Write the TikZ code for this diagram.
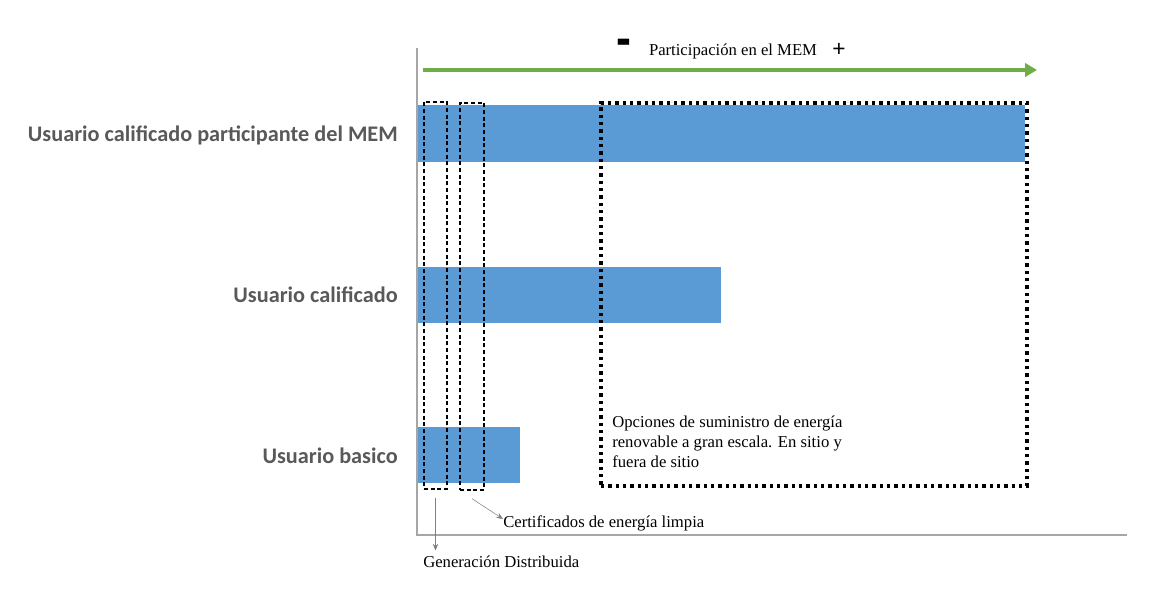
\documentclass[tikz,border=0pt]{standalone}
\usepackage{fontspec}
\setmainfont{Liberation Serif}
\newfontfamily\calibri{Carlito}
\newfontfamily\arialfont{Liberation Sans}
\usepackage{xcolor}
\usetikzlibrary{positioning, arrows.meta, fit}
\definecolor{barblue}{HTML}{5B9BD5}
\definecolor{arrowgreen}{HTML}{70AD47}
\definecolor{labelgray}{HTML}{595959}
\definecolor{axisgray}{HTML}{A6A6A6}
\tikzset{
  user/.style={anchor=east, inner sep=0pt, font=\calibri\bfseries\fontsize{16.7}{18}\selectfont, text=labelgray},
  bar/.style={fill=barblue, draw=none},
  smallbox/.style={draw, dashed, line width=1pt, dash pattern=on 3pt off 2pt, inner sep=0pt},
  bigbox/.style={draw, line width=2.4pt, dash pattern=on 2.5pt off 3pt, inner sep=0pt},
  note/.style={inner sep=0pt, font=\fontsize{12.5}{15}\selectfont, align=left},
  pointer/.style={draw=gray, -{Stealth[length=5pt, width=4pt]}},
}

\begin{document}
\begin{tikzpicture}[x=0.75pt, y=-0.75pt]
  \useasboundingbox (0,0) rectangle (1149,589);

  % axes
  \draw[axisgray, line width=1pt] (417,48) -- (417,535) -- (1127,535);

  % participation arrow
  \draw[arrowgreen, line width=3pt, -{Triangle[length=9pt, width=10pt]}] (423,70) -- (1037,70);
  \node[note] (mem) at (733,51) {Participación en el MEM};
  \node[inner sep=0pt, font=\arialfont\fontsize{24}{24}\selectfont\bfseries, xscale=1.4, yscale=1.6] (minus) at (624,47) {-};
  \node[inner sep=0pt, font=\arialfont\fontsize{17}{17}\selectfont] (plus) at (839,50) {+};

  % bars
  \fill[bar] (418,105) rectangle (1025,162);
  \fill[bar] (418,267) rectangle (721,323);
  \fill[bar] (418,427) rectangle (520,483);

  % user levels
  \node[user] (qmem)  at (398,135) {Usuario calificado participante del MEM};
  \node[user] (qual)  at (398,295) {Usuario calificado};
  \node[user] (basic) at (398,456) {Usuario basico};

  % option boxes
  \node[smallbox, fit={(424,102) (447,489)}] (gd) {};
  \node[smallbox, fit={(460,103) (484,490)}] (cel) {};
  \node[bigbox, fit={(601,103) (1027,486)}] (large) {};

  \node[note, anchor=north west] (largetext) at (612,416)
    {Opciones de suministro de energía\\renovable a gran escala. En sitio y\\fuera de sitio};

  % pointers to labels
  \node[note, anchor=west] (gdtext)  at (423,562) {Generación Distribuida};
  \node[note, anchor=west] (celtext) at (503,523) {Certificados de energía limpia};
  \draw[pointer] ([yshift=-6pt]gd.south) -- ([yshift=4pt]gd.south |- gdtext.north);
  \draw[pointer] ([yshift=-6pt]cel.south) -- ([yshift=3pt]celtext.west);
\end{tikzpicture}
\end{document}
